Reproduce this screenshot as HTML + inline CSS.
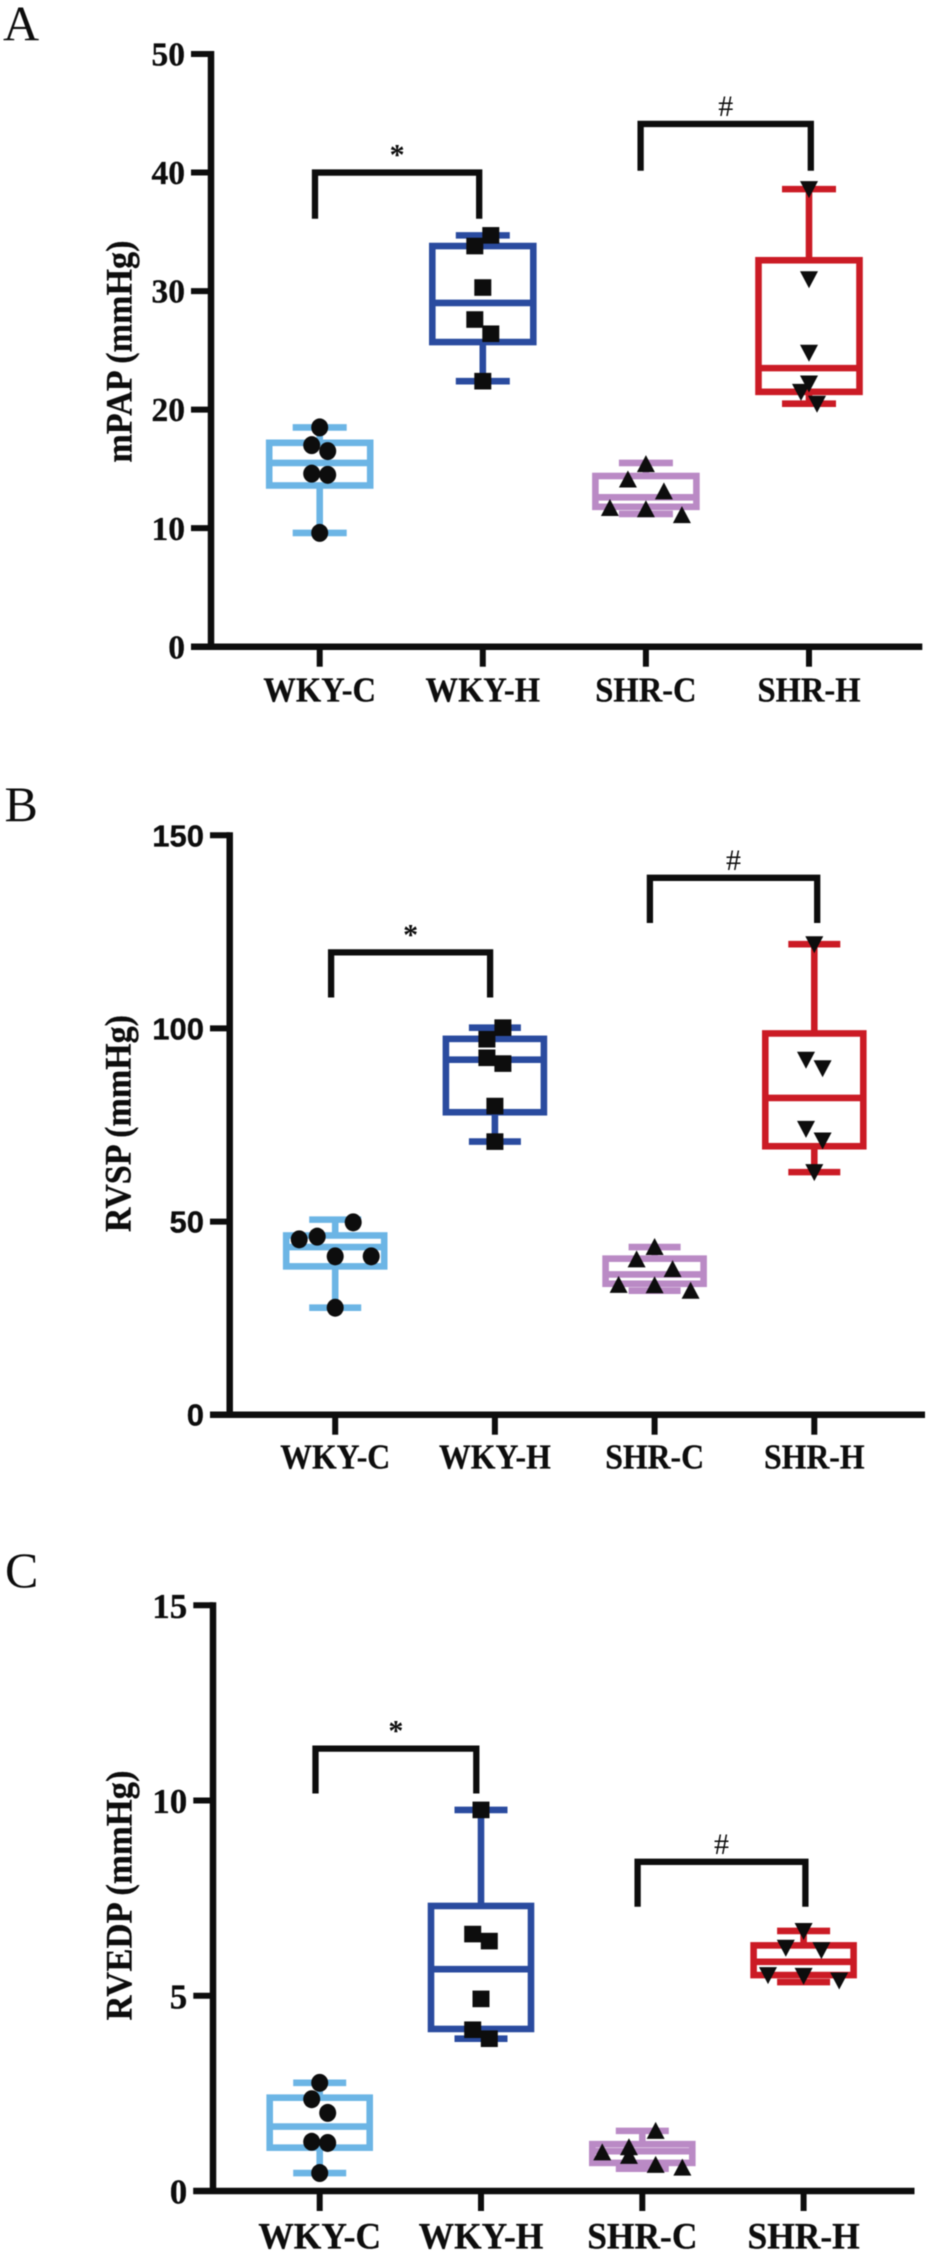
<!DOCTYPE html>
<html lang="en">
<head>
<meta charset="utf-8">
<title>Hemodynamic box plots</title>
<style>
html,body{margin:0;padding:0;background:#fff;}
svg{display:block;filter:blur(0.5px);}
text{font-family:"Liberation Serif",serif;fill:#0d0d0d;}
.b{font-weight:bold;stroke:#0d0d0d;stroke-width:0.3px;}
</style>
</head>
<body>
<svg id="figure" width="930" height="2257" viewBox="0 0 930 2257" xmlns="http://www.w3.org/2000/svg">
<rect width="930" height="2257" fill="#fff"/>
<text x="3" y="40.5" font-size="50">A</text>
<text x="4.5" y="821" font-size="50">B</text>
<text x="5" y="1587" font-size="50">C</text>
<text class="b" font-size="37" text-anchor="middle" transform="translate(131.7,351.6) rotate(-90) scale(0.923,1)">mPAP (mmHg)</text>
<text class="b" font-size="37" text-anchor="middle" transform="translate(130.5,1123.6) rotate(-90) scale(0.92,1)">RVSP (mmHg)</text>
<text class="b" font-size="37" text-anchor="middle" transform="translate(131.7,1895.5) rotate(-90) scale(0.937,1)">RVEDP (mmHg)</text>
<g id="panel-a"></g>
<g id="panel-b"></g>
<g id="panel-c"></g>
</svg>
<script>
// ---- shared data ----
const categories = ['WKY-C', 'WKY-H', 'SHR-C', 'SHR-H'];

// ---- panel A: mPAP ----
const ticksA = [0, 10, 20, 30, 40, 50];
const whiskerHighA = [18.5, 34.7, 15.5, 38.6];
const boxTopA = [17.2, 33.8, 14.4, 32.6];
const medianA = [15.5, 29.0, 12.6, 23.5];
const boxBottomA = [13.6, 25.7, 11.8, 21.5];
const whiskerLowA = [9.6, 22.4, 11.2, 20.5];
const pointsA = [
  [18.5, 17.0, 16.5, 14.6, 14.5, 9.6],
  [34.7, 33.8, 30.3, 27.6, 26.4, 22.4],
  [15.4, 14.1, 13.1, 11.7, 11.6, 11.1],
  [38.6, 31.0, 24.8, 22.2, 21.5, 20.5]
];
const swarmSlotsA = [
  [0, -1, 1, -1, 1, 0],
  [1, -1, 0, -1, 1, 0],
  [0, -1, 1, -2, 0, 2],
  [0, 0, 0, 0, -1, 1]
];
const bracketTopsA = [40.0, 44.1];
const bracketFeetA = [36.1, 40.15];

// ---- panel B: RVSP ----
const ticksB = [0, 50, 100, 150];
const whiskerHighB = [50.5, 100.2, 43.4, 121.8];
const boxTopB = [46.4, 97.3, 40.4, 98.7];
const medianB = [43.4, 91.9, 36.3, 82.0];
const boxBottomB = [38.4, 78.3, 33.9, 69.5];
const whiskerLowB = [27.7, 70.7, 32.1, 62.8];
const pointsB = [
  [49.8, 46.1, 45.4, 41.0, 41.0, 27.7],
  [100.2, 97.2, 92.4, 90.9, 79.9, 70.7],
  [43.4, 40.2, 37.7, 33.6, 33.5, 32.1],
  [121.8, 91.9, 89.7, 74.0, 71.0, 62.8]
];
const swarmSlotsB = [
  [1, -1, -2, 0, 2, 0],
  [1, -1, -1, 1, 0, 0],
  [0, -1, 1, -2, 0, 2],
  [0, -1, 1, -1, 1, 0]
];
const bracketTopsB = [119.7, 139.0];
const bracketFeetB = [108.0, 127.3];

// ---- panel C: RVEDP ----
const ticksC = [0, 5, 10, 15];
const whiskerHighC = [2.77, 9.76, 1.54, 6.66];
const boxTopC = [2.39, 7.30, 1.20, 6.29];
const medianC = [1.65, 5.68, 1.02, 5.87];
const boxBottomC = [1.11, 4.15, 0.72, 5.53];
const whiskerLowC = [0.46, 3.90, 0.57, 5.35];
const pointsC = [
  [2.77, 2.35, 2.00, 1.26, 1.23, 0.46],
  [9.76, 6.58, 6.40, 4.92, 4.13, 3.90],
  [1.54, 1.12, 0.99, 0.90, 0.67, 0.60],
  [6.66, 6.23, 6.17, 5.53, 5.51, 5.39]
];
const swarmSlotsC = [
  [0, -1, 1, -1, 1, 0],
  [0, -1, 1, 0, -1, 1],
  [0.5, -0.5, -1.5, -0.5, 0.5, 1.5],
  [0, -1, 1, -2, 0, 2]
];
const bracketTopsC = [11.33, 8.43];
const bracketFeetC = [10.18, 7.28];

// ---- styling ----
const groupColors = ['#6cb5e5', '#2a4b9f', '#ba8ac5', '#cb1b25'];
const groupShapes = ['circle', 'square', 'up', 'down'];
const bracketLabels = ['*', '#'];
const NS = 'http://www.w3.org/2000/svg';

function svgEl(tag, attrs, parent) {
  const el = document.createElementNS(NS, tag);
  for (const k in attrs) el.setAttribute(k, attrs[k]);
  parent.appendChild(el);
  return el;
}

function drawPanel(parent, cfg, d) {
  const yScale = v => cfg.y0 - (v / cfg.yMax) * (cfg.y0 - cfg.yTop);
  const xScale = i => cfg.x0 + i * cfg.band;

  // axes
  const yAxis = svgEl('line', {x1: cfg.axisX, x2: cfg.axisX, y1: cfg.yTop - 3, y2: cfg.y0 + 3, stroke: '#0d0d0d', 'stroke-width': 6.5}, parent);
  
  
  const xAxis = svgEl('line', {x1: cfg.tickLeft, x2: cfg.axisRight, y1: cfg.y0, y2: cfg.y0, stroke: '#0d0d0d', 'stroke-width': 6.5}, parent);
  
  

  d.ticks.forEach(t => {
    const tick = svgEl('line', {x1: cfg.tickLeft, x2: cfg.axisX, y1: yScale(t), y2: yScale(t), stroke: '#0d0d0d', 'stroke-width': 6}, parent);
    
    
    const label = svgEl('text', {x: cfg.tickLeft - 6, y: yScale(t) + cfg.tickDy, 'font-size': cfg.tickSize, 'text-anchor': 'end', 'font-family': cfg.tickFont, style: 'font-family:' + cfg.tickFont, class: 'b'}, parent);
    label.textContent = t;
    
    
  });

  categories.forEach((name, i) => {
    const x = xScale(i);
    const tick = svgEl('line', {x1: x, x2: x, y1: cfg.y0, y2: cfg.y0 + 20, stroke: '#0d0d0d', 'stroke-width': 6}, parent);
    
    
    const label = svgEl('text', {transform: 'translate(' + x + ',' + (cfg.y0 + cfg.labelDy) + ') scale(' + cfg.labelStretch + ',1)', 'font-size': cfg.labelSize, 'text-anchor': 'middle', class: 'b'}, parent);
    label.textContent = name;
    
    

    // box and whiskers
    const group = svgEl('g', {}, parent);
    
    
    const color = groupColors[i];
    const hw = cfg.boxHalf, capHw = cfg.capHalf, sw = 6.6;
    const stem1 = svgEl('line', {x1: x, x2: x, y1: yScale(d.whiskerHigh[i]), y2: yScale(d.boxTop[i]), stroke: color, 'stroke-width': sw}, group);
    
    
    const stem2 = svgEl('line', {x1: x, x2: x, y1: yScale(d.boxBottom[i]), y2: yScale(d.whiskerLow[i]), stroke: color, 'stroke-width': sw}, group);
    
    
    const cap1 = svgEl('line', {x1: x - capHw, x2: x + capHw, y1: yScale(d.whiskerHigh[i]), y2: yScale(d.whiskerHigh[i]), stroke: color, 'stroke-width': sw}, group);
    
    
    const cap2 = svgEl('line', {x1: x - capHw, x2: x + capHw, y1: yScale(d.whiskerLow[i]), y2: yScale(d.whiskerLow[i]), stroke: color, 'stroke-width': sw}, group);
    
    
    const box = svgEl('rect', {x: x - hw, width: hw * 2, y: yScale(d.boxTop[i]), height: yScale(d.boxBottom[i]) - yScale(d.boxTop[i]), fill: 'none', stroke: color, 'stroke-width': sw}, group);
    
    
    const med = svgEl('line', {x1: x - hw, x2: x + hw, y1: yScale(d.median[i]), y2: yScale(d.median[i]), stroke: color, 'stroke-width': sw}, group);
    
    

    // points
    d.points[i].forEach((v, j) => {
      const px = x + d.slots[i][j] * cfg.slotWidth[i];
      const py = yScale(v);
      let mark;
      if (groupShapes[i] === 'circle') {
        mark = svgEl('ellipse', {cx: px, cy: py, rx: 8.5, ry: 9, fill: '#0d0d0d'}, group);
      } else if (groupShapes[i] === 'square') {
        mark = svgEl('rect', {x: px - 8.5, y: py - 8.3, width: 17, height: 16.6, fill: '#0d0d0d'}, group);
      } else if (groupShapes[i] === 'up') {
        mark = svgEl('polygon', {points: [px - 9, py + 8, px + 9, py + 8, px, py - 9].join(' '), fill: '#0d0d0d'}, group);
      } else {
        mark = svgEl('polygon', {points: [px - 9, py - 8, px + 9, py - 8, px, py + 9].join(' '), fill: '#0d0d0d'}, group);
      }
      
      
    });
  });

  // significance brackets
  d.bracketTops.forEach((top, b) => {
    const xl = xScale(b * 2) + cfg.bracketInsetLeft[b];
    const xr = xScale(b * 2 + 1) + cfg.bracketInsetRight[b];
    const path = svgEl('polyline', {
      points: [xl, yScale(d.bracketFeet[b]), xl, yScale(top), xr, yScale(top), xr, yScale(d.bracketFeet[b])].join(' '),
      fill: 'none', stroke: '#0d0d0d', 'stroke-width': 6.3, 'stroke-linejoin': 'miter'
    }, parent);
    
    
    const sym = bracketLabels[b];
    const label = svgEl('text', {x: (xl + xr) / 2, y: yScale(top) - 8, 'font-size': 30, 'font-weight': sym === '*' ? 'bold' : 'normal', 'text-anchor': 'middle'}, parent);
    label.textContent = sym;
    
    
  });
}

const serifFont = '"Liberation Serif",serif';
const sansFont = '"Liberation Sans",sans-serif';

drawPanel(document.getElementById('panel-a'),
  {axisX: 211, axisRight: 922.3, tickLeft: 191, y0: 646.7, yTop: 54, yMax: 50, x0: 319.7, band: 163.1, labelDy: 55, labelSize: 35, labelStretch: 0.93, tickFont: serifFont, tickSize: 33.5, tickDy: 11.6, boxHalf: 50.5, capHalf: 27, slotWidth: [8, 8, 18, 8], bracketInsetLeft: [-4.7, -5.3], bracketInsetRight: [-3.6, 1.8]},
  {ticks: ticksA, whiskerHigh: whiskerHighA, boxTop: boxTopA, median: medianA, boxBottom: boxBottomA, whiskerLow: whiskerLowA, points: pointsA, slots: swarmSlotsA, bracketTops: bracketTopsA, bracketFeet: bracketFeetA});

drawPanel(document.getElementById('panel-b'),
  {axisX: 229.7, axisRight: 925, tickLeft: 210, y0: 1414.7, yTop: 835.3, yMax: 150, x0: 335.2, band: 159.7, labelDy: 53.6, labelSize: 35, labelStretch: 0.908, tickFont: sansFont, tickSize: 31, tickDy: 11, boxHalf: 49, capHalf: 26, slotWidth: [18, 8, 18, 8.3], bracketInsetLeft: [-4.1, -4.7], bracketInsetRight: [-4.8, 2.9]},
  {ticks: ticksB, whiskerHigh: whiskerHighB, boxTop: boxTopB, median: medianB, boxBottom: boxBottomB, whiskerLow: whiskerLowB, points: pointsB, slots: swarmSlotsB, bracketTops: bracketTopsB, bracketFeet: bracketFeetB});

drawPanel(document.getElementById('panel-c'),
  {axisX: 213, axisRight: 914.5, tickLeft: 193.3, y0: 2191, yTop: 1605.3, yMax: 15, x0: 319.7, band: 161.3, labelDy: 57.3, labelSize: 36.8, labelStretch: 0.963, tickFont: serifFont, tickSize: 35, tickDy: 12.5, boxHalf: 50, capHalf: 26.5, slotWidth: [8, 8.3, 26.7, 17.8], bracketInsetLeft: [-4.2, -4.7], bracketInsetRight: [-4.7, 1.8]},
  {ticks: ticksC, whiskerHigh: whiskerHighC, boxTop: boxTopC, median: medianC, boxBottom: boxBottomC, whiskerLow: whiskerLowC, points: pointsC, slots: swarmSlotsC, bracketTops: bracketTopsC, bracketFeet: bracketFeetC});
</script>
</body>
</html>
